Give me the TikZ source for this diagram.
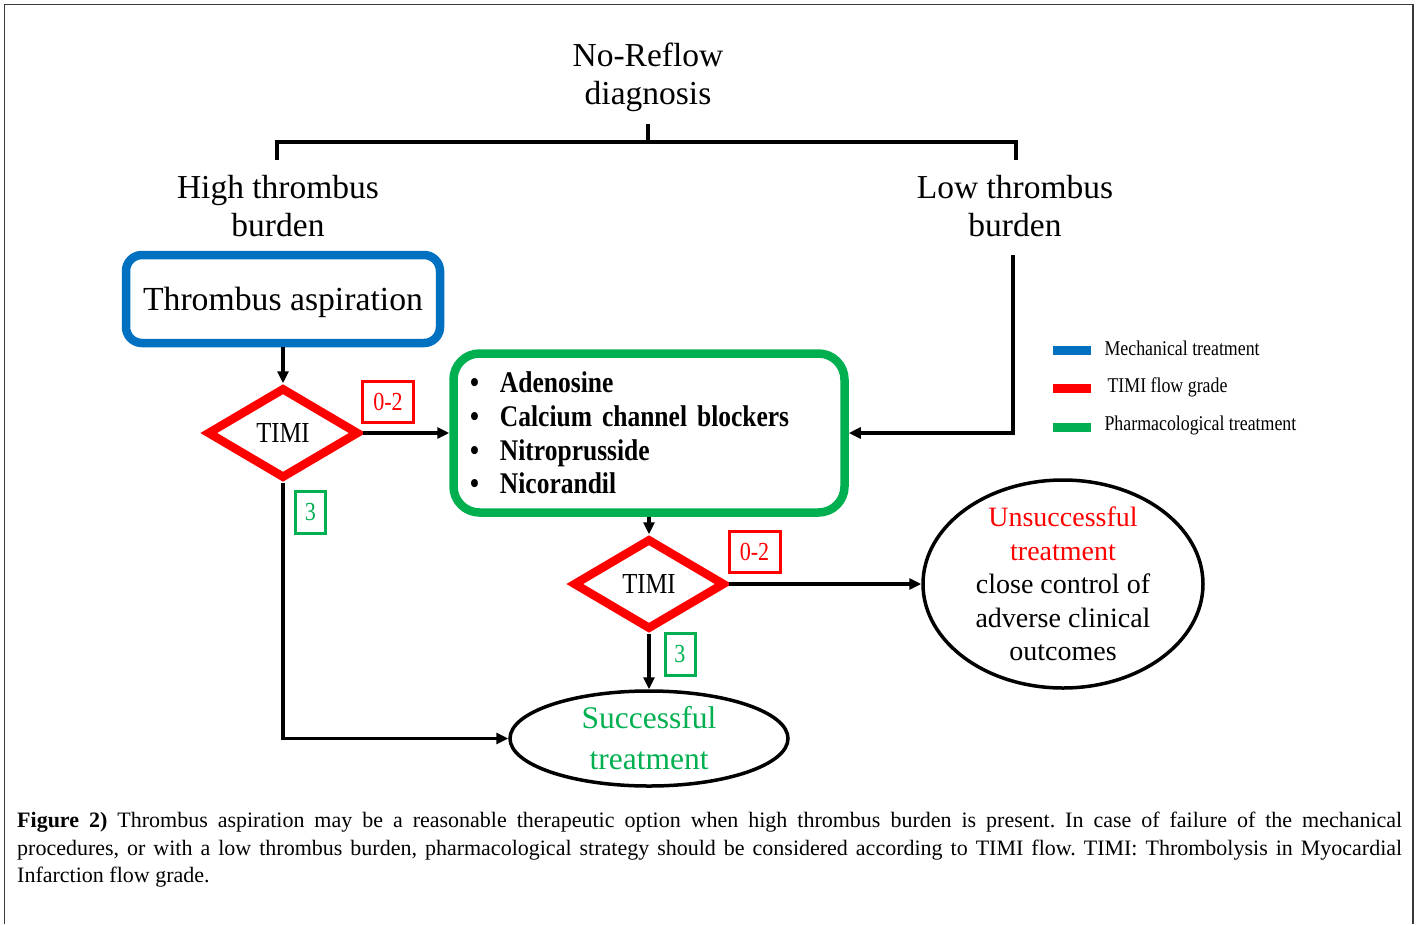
\documentclass[tikz,border=0pt]{standalone}
\usepackage{fontspec}
\setmainfont{Liberation Serif}
\newfontfamily\narrowfont[FakeStretch=0.85]{Liberation Serif}
\usepackage{xcolor}
\usepackage{tikz}
\usetikzlibrary{positioning,arrows.meta,shapes.geometric}
\definecolor{MechBlue}{HTML}{0070C0}
\definecolor{TimiRed}{HTML}{FF0000}
\definecolor{PharmGreen}{HTML}{00B050}
\definecolor{FrameGray}{HTML}{3A3A3A}
\newcommand{\drugline}[1]{\makebox[30pt][l]{\textbullet}#1}
\frenchspacing

\begin{document}
\begin{tikzpicture}[x=1pt,y=-1pt,
    flow/.style={line width=3.2pt,-{Triangle[length=12pt,width=11pt]}},
    heading/.style={align=center,font=\fontsize{33.5}{38}\selectfont},
    timi/.style={diamond,draw=TimiRed,line width=8.5pt,minimum width=152pt,minimum height=91pt,inner sep=0pt,font=\narrowfont\fontsize{29}{33}\selectfont},
    redtag/.style={draw=TimiRed,text=TimiRed,line width=3pt,minimum width=51pt,minimum height=41pt,inner sep=0pt,font=\narrowfont\fontsize{26}{30}\selectfont},
    greentag/.style={redtag,draw=PharmGreen,text=PharmGreen,minimum width=30pt,minimum height=42pt},
    outcome/.style={ellipse,draw,line width=3.5pt,inner sep=0pt},
    keytext/.style={anchor=west,font=\narrowfont\fontsize{21}{24}\selectfont}]
        \useasboundingbox (0,0) rectangle (1419,924);
        \draw[FrameGray,line width=1.5pt] (4.5,924) -- (4.5,4.5) -- (1413,4.5) -- (1413,924);
        \node[heading] (diag) at (648,77) {No-Reflow\\diagnosis};
        \node[heading] (high) at (278,206) {High thrombus\\burden};
        \node[heading] (low) at (1015,206) {Low thrombus\\burden};
        \coordinate (fork) at (648,124);
        \coordinate (highfoot) at (277,160);
        \coordinate (lowtop) at (1015.5,160);
        \coordinate (lowfoot) at (1013,255);
        \draw[line width=4pt] (fork) -- ++(0,17.5) -| (highfoot);
        \draw[line width=4pt] (fork) ++(0,17.5) -| (lowtop);
        \node[draw=MechBlue,line width=8.5pt,rounded corners=16pt,minimum width=314pt,minimum height=88pt,inner sep=0pt,text depth=0pt,font=\fontsize{33.7}{38}\selectfont] (aspir) at (283,299) {Thrombus aspiration};
        \node[timi] (timiA) at (283,433) {TIMI};
        \node[draw=PharmGreen,line width=8.5pt,rounded corners=26pt,text width=358pt,inner xsep=16.5pt,inner ysep=0pt,minimum height=159pt,align=left,font=\narrowfont\bfseries\fontsize{30}{33.7}\selectfont] (drugs) at (649,433) {\drugline{Adenosine}\\\drugline{Calcium channel blockers}\\\drugline{Nitroprusside}\\\drugline{Nicorandil}};
        \node[timi] (timiB) at (649,584) {TIMI};
        \node[outcome,minimum width=278pt,minimum height=95pt] (win) at (649,738.5) {};
        \node[text=PharmGreen,align=center,font=\fontsize{31.5}{41}\selectfont] (wintext) at (win) {Successful\\treatment};
        \node[outcome,minimum width=280pt,minimum height=208pt] (fail) at (1063,584) {};
        \node[align=center,font=\fontsize{28}{33.5}\selectfont] (failtext) at (fail) {\textcolor{TimiRed}{Unsuccessful}\\\textcolor{TimiRed}{treatment}\\close control of\\adverse clinical\\outcomes};
        \node[redtag] (tagA) at (388,402) {0-2};
        \node[greentag] (passA) at (310.5,512.5) {3};
        \node[redtag] (tagB) at (754.5,551.5) {0-2};
        \node[greentag] (passB) at (680,654.5) {3};
        \draw[flow] (aspir.south) -- (timiA.north);
        \draw[flow] (timiA.east) -- (drugs.west);
        \draw[flow] (timiA.south) |- (win.west);
        \draw[flow] (lowfoot) |- (drugs.east);
        \draw[flow] (drugs.south) -- (timiB.north);
        \draw[flow] (timiB.east) -- (fail.west);
        \draw[flow] (timiB.south) -- (win.north);
        \fill[MechBlue] (1053,346) rectangle (1091,355);
        \node[keytext] (keymech) at (1101,348) {Mechanical treatment};
        \fill[TimiRed] (1053,384) rectangle (1091,393);
        \node[keytext] (keytimi) at (1104,387) {TIMI flow grade};
        \fill[PharmGreen] (1053,423) rectangle (1091,432);
        \node[keytext] (keypharm) at (1101,425) {Pharmacological treatment};
        \node[anchor=north west,inner sep=0pt,text width=1385pt,align=justify,font=\fontsize{22}{27.5}\selectfont] (caption) at (17,812) {\textbf{Figure 2)} Thrombus aspiration may be a reasonable therapeutic option when high thrombus burden is present. In case of failure of the mechanical\linebreak procedures, or with a low thrombus burden, pharmacological strategy should be considered according to TIMI flow. TIMI: Thrombolysis in Myocardial\linebreak Infarction flow grade.};
      \end{tikzpicture}
\end{document}
